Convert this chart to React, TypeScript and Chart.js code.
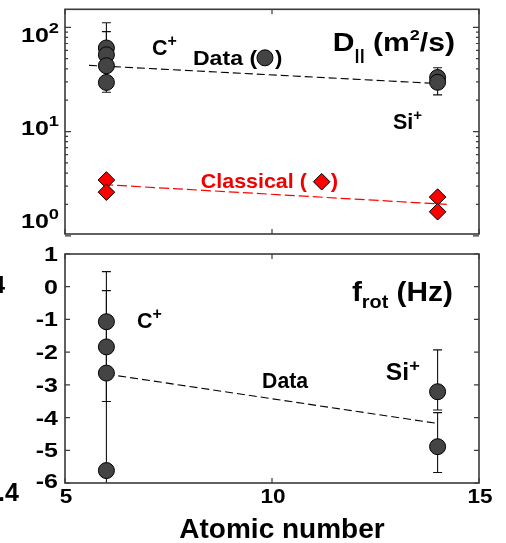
import React, { useEffect, useRef } from 'react';
import { Chart, registerables } from 'chart.js';

Chart.register(...registerables);

// ---------------- data ----------------
const ionX = [6, 14]; // atomic number of C+ and Si+
// D|| (m^2/s) measured (circles)
const dParC = [63.4, 54.5, 42.8, 29.6];
const dParSi = [33.0, 29.7];
// D|| classical (diamonds)
const dClassC = [3.43, 2.62];
const dClassSi = [2.35, 1.7];
// dashed fit lines (top panel)
const dFitX = [5.58, 14.23];
const dFitY = [43.2, 28.6];
const classFitX = [5.92, 14.22];
const classFitY = [3.1, 2.0];
// error bars (top panel)
const dErrX = [6, 6, 14];
const dErrLo = [23.8, 44, 22.5];
const dErrHi = [91, 110.7, 41];
// legend markers (top panel)
const dataMarkX = [9.83];
const dataMarkY = [51];
const classMarkX = [11.2];
const classMarkY = [3.3];

// f_rot (Hz)
const fRotC = [-1.07, -1.84, -2.64, -5.62];
const fRotSi = [-3.21, -4.89];
const fFitX = [6, 14];
const fFitY = [-2.67, -4.18];
const fErrX = [6, 6, 14, 14];
const fErrLo = [-3.51, -6.3, -3.77, -5.68];
const fErrHi = [0.46, -0.12, -1.93, -3.85];

// axes
const xTicks = [5, 10, 15];
const fTicks = [-6, -5, -4, -3, -2, -1, 0, 1];
const dDecades = [0, 1, 2];
const dMinor = [2, 3, 4, 5, 6, 7, 8, 9];

const FONT = '"Liberation Sans", Arial, Helvetica, sans-serif';

type Seg = { t: string; size: number; dy?: number };

function drawRich(
  ctx: CanvasRenderingContext2D,
  segs: Seg[],
  x: number,
  y: number,
  opts: { width?: number; align?: 'left' | 'right' | 'center'; sx?: number; color?: string } = {}
) {
  ctx.save();
  ctx.fillStyle = opts.color || '#000';
  ctx.textBaseline = 'alphabetic';
  ctx.textAlign = 'left';
  let w = 0;
  const widths = segs.map((s) => {
    ctx.font = `bold ${s.size}px ${FONT}`;
    const m = ctx.measureText(s.t).width;
    w += m;
    return m;
  });
  let sx = opts.sx ?? 1;
  if (opts.width) sx = opts.width / w;
  const total = w * sx;
  let x0 = x;
  if (opts.align === 'right') x0 = x - total;
  else if (opts.align === 'center') x0 = x - total / 2;
  ctx.translate(x0, y);
  ctx.scale(sx, 1);
  let dx = 0;
  segs.forEach((s, i) => {
    ctx.font = `bold ${s.size}px ${FONT}`;
    ctx.fillText(s.t, dx, s.dy || 0);
    dx += widths[i];
  });
  ctx.restore();
}

const pts = (xs: number[], ys: number[]) => ys.map((y, i) => ({ x: xs[i], y }));
const rep = (x: number, ys: number[]) => ys.map((y) => ({ x, y }));

function drawErrBars(chart: any, ex: number[], lo: number[], hi: number[]) {
  const ctx = chart.ctx as CanvasRenderingContext2D;
  const ca = chart.chartArea;
  const xs = chart.scales.x;
  const ys = chart.scales.y;
  ctx.save();
  ctx.beginPath();
  ctx.rect(ca.left, ca.top, ca.right - ca.left, ca.bottom - ca.top);
  ctx.clip();
  ctx.strokeStyle = '#111';
  ctx.lineWidth = 1.1;
  ex.forEach((xv, i) => {
    const px = xs.getPixelForValue(xv);
    const p1 = ys.getPixelForValue(lo[i]);
    const p2 = ys.getPixelForValue(hi[i]);
    ctx.beginPath();
    ctx.moveTo(px, p1);
    ctx.lineTo(px, p2);
    ctx.moveTo(px - 4.5, p1);
    ctx.lineTo(px + 4.5, p1);
    ctx.moveTo(px - 4.5, p2);
    ctx.lineTo(px + 4.5, p2);
    ctx.stroke();
  });
  ctx.restore();
}

function drawFrame(chart: any) {
  const ctx = chart.ctx as CanvasRenderingContext2D;
  const ca = chart.chartArea;
  ctx.save();
  ctx.strokeStyle = '#3a3a3a';
  ctx.lineWidth = 1.6;
  ctx.strokeRect(ca.left, ca.top, ca.right - ca.left, ca.bottom - ca.top);
  ctx.restore();
}

const topPlugin = {
  id: 'topPanel',
  beforeDatasetsDraw(chart: any) {
    drawErrBars(chart, dErrX, dErrLo, dErrHi);
  },
  afterDatasetsDraw(chart: any) {
    const ctx = chart.ctx as CanvasRenderingContext2D;
    const ca = chart.chartArea;
    const xs = chart.scales.x;
    const ys = chart.scales.y;
    const X = (v: number) => xs.getPixelForValue(v);
    const Y = (v: number) => ys.getPixelForValue(v);
    drawFrame(chart);
    ctx.save();
    ctx.strokeStyle = '#3a3a3a';
    ctx.lineWidth = 1.2;
    ctx.beginPath();
    // x ticks (inward)
    xTicks.forEach((v) => {
      const px = X(v);
      ctx.moveTo(px, ca.bottom);
      ctx.lineTo(px, ca.bottom - 5);
      ctx.moveTo(px, ca.top);
      ctx.lineTo(px, ca.top + 5);
    });
    // log y ticks
    dDecades.forEach((d) => {
      const base = Math.pow(10, d);
      const py = Y(base);
      if (py >= ca.top && py <= ca.bottom + 3) {
        ctx.moveTo(ca.left, py);
        ctx.lineTo(ca.left + 6, py);
        ctx.moveTo(ca.right, py);
        ctx.lineTo(ca.right - 6, py);
      }
      dMinor.forEach((m) => {
        const pm = Y(base * m);
        if (pm >= ca.top && pm <= ca.bottom) {
          ctx.moveTo(ca.left, pm);
          ctx.lineTo(ca.left + 3, pm);
          ctx.moveTo(ca.right, pm);
          ctx.lineTo(ca.right - 3, pm);
        }
      });
    });
    ctx.stroke();
    ctx.restore();

    // y tick labels 10^k
    dDecades.forEach((d) => {
      const py = Y(Math.pow(10, d));
      const base = ca.top + 32.5 + (py - ca.top - 18) * 0.893;
      drawRich(ctx, [{ t: '10', size: 20.5 }, { t: String(d), size: 15, dy: -8.5 }], 59, base, {
        align: 'right',
        sx: 1.22,
      });
    });

    // annotations
    drawRich(ctx, [{ t: 'C', size: 21.5 }, { t: '+', size: 16, dy: -9 }], X(7.1), Y(54.7));
    drawRich(ctx, [{ t: 'Data (', size: 21 }], X(8.09), Y(44.0), { width: X(9.64) - X(8.09) });
    drawRich(ctx, [{ t: ')', size: 21 }], X(10.07), Y(44.0), { sx: 1.05 });
    drawRich(
      ctx,
      [
        { t: 'D', size: 25 },
        { t: '||', size: 15, dy: 9 },
        { t: ' (m', size: 25 },
        { t: '2', size: 15, dy: -11 },
        { t: '/s)', size: 25 },
      ],
      X(11.47),
      Y(59.7),
      { width: X(14.42) - X(11.47) }
    );
    drawRich(ctx, [{ t: 'Si', size: 21.5 }, { t: '+', size: 15, dy: -9 }], X(12.92), Y(10.5));
    drawRich(ctx, [{ t: 'Classical (', size: 21 }], X(8.28), Y(2.9), {
      width: X(10.84) - X(8.28),
      color: '#f20000',
    });
    drawRich(ctx, [{ t: ')', size: 21 }], X(11.42), Y(2.9), { color: '#f20000', sx: 1.05 });
  },
};

const bottomPlugin = {
  id: 'bottomPanel',
  beforeDatasetsDraw(chart: any) {
    drawErrBars(chart, fErrX, fErrLo, fErrHi);
  },
  afterDatasetsDraw(chart: any) {
    const ctx = chart.ctx as CanvasRenderingContext2D;
    const ca = chart.chartArea;
    const xs = chart.scales.x;
    const ys = chart.scales.y;
    const X = (v: number) => xs.getPixelForValue(v);
    const Y = (v: number) => ys.getPixelForValue(v);
    drawFrame(chart);
    ctx.save();
    ctx.strokeStyle = '#3a3a3a';
    ctx.lineWidth = 1.2;
    ctx.beginPath();
    xTicks.forEach((v) => {
      const px = X(v);
      ctx.moveTo(px, ca.bottom);
      ctx.lineTo(px, ca.bottom - 5);
      ctx.moveTo(px, ca.top);
      ctx.lineTo(px, ca.top + 5);
    });
    fTicks.forEach((v) => {
      const py = Y(v);
      ctx.moveTo(ca.left, py);
      ctx.lineTo(ca.left + 5, py);
      ctx.moveTo(ca.right, py);
      ctx.lineTo(ca.right - 5, py);
    });
    ctx.stroke();
    ctx.restore();

    // y tick labels
    fTicks.forEach((v) => {
      const py = Y(v);
      drawRich(ctx, [{ t: String(v), size: 20.5 }], 58, py + 7 - (v === -6 ? 2 : 0), {
        align: 'right',
        sx: 1.22,
      });
    });
    // x tick labels
    xTicks.forEach((v) => {
      drawRich(ctx, [{ t: String(v), size: 20.5 }], X(v) + 1, ca.bottom + 20, { align: 'center', sx: 1.1 });
    });
    // axis title
    drawRich(ctx, [{ t: 'Atomic number', size: 28 }], (ca.left + ca.right) / 2 + 10, ca.bottom + 55, {
      align: 'center',
    });

    // annotations
    drawRich(ctx, [{ t: 'C', size: 21.5 }, { t: '+', size: 16, dy: -9 }], X(6.74), Y(-1.26));
    drawRich(ctx, [{ t: 'Data', size: 22 }], X(9.76), Y(-3.1), { width: X(10.87) - X(9.76) });
    drawRich(ctx, [{ t: 'Si', size: 23 }, { t: '+', size: 17, dy: -9 }], X(12.75), Y(-2.85), {
      width: X(13.57) - X(12.75),
    });
    drawRich(
      ctx,
      [
        { t: 'f', size: 27 },
        { t: 'rot', size: 18, dy: 7 },
        { t: ' (Hz)', size: 27 },
      ],
      X(11.93),
      Y(-0.44),
      { width: X(14.37) - X(11.93) }
    );

    // cut-off labels of the neighbouring figure at the left edge
    drawRich(ctx, [{ t: '4', size: 23 }], 5, ca.top + 39, { align: 'right' });
    drawRich(ctx, [{ t: '.4', size: 25 }], -2, ca.bottom + 18);
  },
};

const circleStyle = {
  pointStyle: 'circle' as const,
  pointRadius: 8,
  backgroundColor: '#444444',
  borderColor: '#000000',
  borderWidth: 1,
  showLine: false,
};

const diamondStyle = {
  pointStyle: 'rectRot' as const,
  pointRadius: 8.3,
  backgroundColor: '#ff0000',
  borderColor: '#000000',
  borderWidth: 1,
  showLine: false,
};

const commonOptions = (padding: any, yScale: any) => ({
  responsive: false,
  maintainAspectRatio: false,
  animation: false as const,
  events: [] as any[],
  layout: { padding },
  plugins: { legend: { display: false }, tooltip: { enabled: false } },
  scales: {
    x: { type: 'linear' as const, min: 5, max: 15, display: false },
    y: yScale,
  },
});

export default function App() {
  const topRef = useRef<HTMLCanvasElement>(null);
  const botRef = useRef<HTMLCanvasElement>(null);

  useEffect(() => {
    const top = new Chart(topRef.current as HTMLCanvasElement, {
      type: 'scatter',
      data: {
        datasets: [
          {
            label: 'D|| data',
            data: [...rep(ionX[0], dParC), ...rep(ionX[1], dParSi), ...pts(dataMarkX, dataMarkY)],
            ...circleStyle,
            order: 0,
          } as any,
          {
            label: 'D|| classical',
            data: [...rep(ionX[0], dClassC), ...rep(ionX[1], dClassSi), ...pts(classMarkX, classMarkY)],
            ...diamondStyle,
            order: 1,
          } as any,
          {
            label: 'data fit',
            data: pts(dFitX, dFitY),
            showLine: true,
            borderColor: '#000',
            borderWidth: 1.1,
            borderDash: [8, 4],
            pointRadius: 0,
            order: 3,
          } as any,
          {
            label: 'classical fit',
            data: pts(classFitX, classFitY),
            showLine: true,
            borderColor: '#ff0000',
            borderWidth: 1.2,
            borderDash: [10, 4],
            pointRadius: 0,
            order: 3,
          } as any,
        ],
      },
      options: commonOptions(
        { left: 65, right: 27, top: 6, bottom: 11 },
        { type: 'logarithmic', min: 1.04, max: 149, display: false, bounds: 'data' }
      ) as any,
      plugins: [topPlugin],
    });

    const bot = new Chart(botRef.current as HTMLCanvasElement, {
      type: 'scatter',
      data: {
        datasets: [
          {
            label: 'f_rot data',
            data: [...rep(ionX[0], fRotC), ...rep(ionX[1], fRotSi)],
            ...circleStyle,
            order: 0,
          } as any,
          {
            label: 'f_rot fit',
            data: pts(fFitX, fFitY),
            showLine: true,
            borderColor: '#000',
            borderWidth: 1.1,
            borderDash: [8, 4],
            pointRadius: 0,
            order: 3,
          } as any,
        ],
      },
      options: commonOptions(
        { left: 65, right: 27, top: 9, bottom: 60 },
        { type: 'linear', min: -6, max: 1, display: false }
      ) as any,
      plugins: [bottomPlugin],
    });

    return () => {
      top.destroy();
      bot.destroy();
    };
  }, []);

  return (
    <div style={{ position: 'absolute', left: 0, top: 0, width: 506, height: 543, background: '#fff' }}>
      <canvas
        ref={topRef}
        width={506}
        height={245}
        style={{ position: 'absolute', left: 0, top: 0, width: 506, height: 245, display: 'block' }}
      />
      <canvas
        ref={botRef}
        width={506}
        height={298}
        style={{ position: 'absolute', left: 0, top: 245, width: 506, height: 298, display: 'block' }}
      />
    </div>
  );
}
